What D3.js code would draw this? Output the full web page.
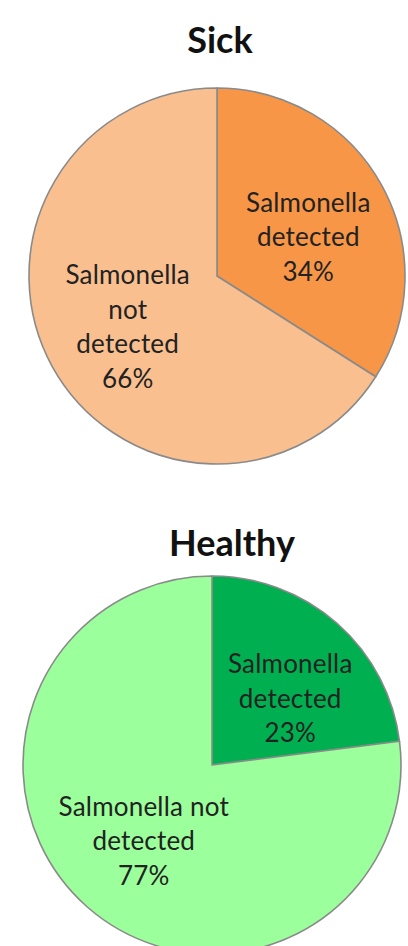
<!DOCTYPE html>
<html>
<head>
<meta charset="utf-8">
<script src="https://cdn.jsdelivr.net/npm/d3@7"></script>
<style>
  html, body { margin: 0; padding: 0; background: #ffffff; overflow: hidden; }
  svg { display: block; }
</style>
</head>
<body>
<div id="chart"></div>
<script>
// Salmonella detection share by group
const groups = ["Sick", "Healthy"];
const categories = ["Salmonella detected", "Salmonella not detected"];
const sickValues = [34, 66];
const healthyValues = [23, 77];
const sickLabels = [["Salmonella", "detected", "34%"], ["Salmonella", "not", "detected", "66%"]];
const healthyLabels = [["Salmonella", "detected", "23%"], ["Salmonella not", "detected", "77%"]];
const sickColors = ["#f79646", "#f9bf8f"];
const healthyColors = ["#00b050", "#9bff9b"];

const W = 408, H = 946;
const svg = d3.select("#chart").append("svg")
  .attr("width", W).attr("height", H);

const panels = [
  { title: groups[0], values: sickValues, labels: sickLabels, colors: sickColors,
    cx: 217, cy: 276, r: 188, titleX: 220, titleY: 53, labelR: 0.53, nudge: [[4, 8], [-2, 2]] },
  { title: groups[1], values: healthyValues, labels: healthyLabels, colors: healthyColors,
    cx: 212, cy: 765, r: 189, titleX: 232, titleY: 556, labelR: 0.53, nudge: [[12, 8], [-2, 0]] }
];

const pie = d3.pie().sort(null).value(d => d);
const lineH = 34.5;

panels.forEach(p => {
  const g = svg.append("g").attr("transform", `translate(${p.cx},${p.cy})`);
  const color = d3.scaleOrdinal().domain(categories).range(p.colors);
  const arc = d3.arc().innerRadius(0).outerRadius(p.r);
  const labelArc = d3.arc().innerRadius(p.r * p.labelR).outerRadius(p.r * p.labelR);
  const arcs = pie(p.values);

  g.selectAll("path.slice")
    .data(arcs)
    .join("path")
    .attr("class", "slice")
    .attr("d", arc)
    .attr("fill", (d, i) => color(categories[i]))
    .attr("stroke", "#8a8a8a")
    .attr("stroke-width", 1.6)
    .attr("stroke-linejoin", "round");

  arcs.forEach((d, i) => {
    const [x, y] = labelArc.centroid(d);
    const lines = p.labels[i];
    const lx = x + p.nudge[i][0], ly = y + p.nudge[i][1];
    const t = g.append("text")
      .attr("x", lx)
      .attr("y", ly - (lines.length - 1) * lineH / 2)
      .attr("text-anchor", "middle")
      .attr("dominant-baseline", "central")
      .attr("font-family", "Lato, 'Open Sans', sans-serif")
      .attr("font-size", 26)
      .attr("fill", "#222")
      .attr("letter-spacing", 0.2);
    lines.forEach((ln, k) => {
      t.append("tspan").attr("x", lx).attr("dy", k === 0 ? 0 : lineH).text(ln);
    });
  });

  svg.append("text")
    .attr("x", p.titleX)
    .attr("y", p.titleY)
    .attr("text-anchor", "middle")
    .attr("font-family", "Lato, 'Open Sans', sans-serif")
    .attr("font-weight", "bold")
    .attr("font-size", 36)
    .attr("fill", "#111")
    .text(p.title);
});
</script>
</body>
</html>
